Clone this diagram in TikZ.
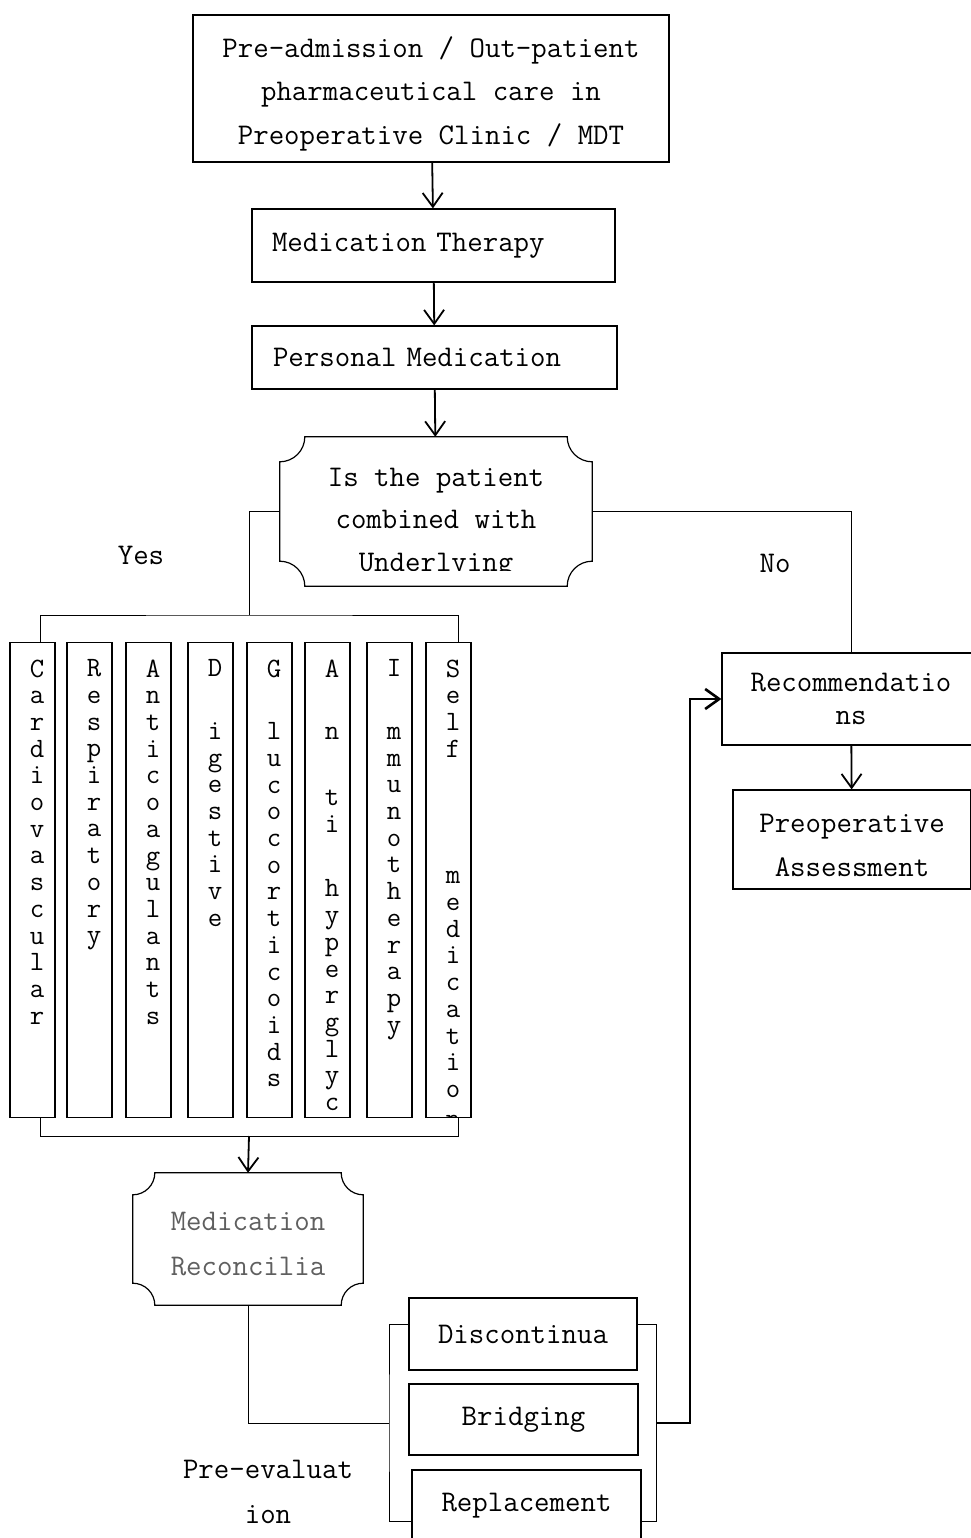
\documentclass[tikz,border=0pt]{standalone}
\usepackage{tikz}
\usetikzlibrary{arrows.meta, calc}
\definecolor{recongray}{RGB}{95,95,95}

% box with concave (inward) corners, drawn round an existing node
\newcommand{\drawplaque}[2]{%
  \draw[line width=1.2pt] ([xshift=#2]#1.north west) -- ([xshift=-#2]#1.north east)
    arc[start angle=180, end angle=270, radius=#2]
    -- ([yshift=#2]#1.south east)
    arc[start angle=90, end angle=180, radius=#2]
    -- ([xshift=#2]#1.south west)
    arc[start angle=0, end angle=90, radius=#2]
    -- ([yshift=-#2]#1.north west)
    arc[start angle=270, end angle=360, radius=#2] -- cycle;}

\begin{document}
\begin{tikzpicture}[
    x=1pt, y=1pt,
    every node/.style={font=\ttfamily\fontsize{30}{43.5}\selectfont},
    box/.style={rectangle, draw, line width=1.2pt, inner sep=0pt, align=center},
    leftbox/.style={box, align=left, inner xsep=20pt, text width=323pt},
    plaquebox/.style={rectangle, inner sep=0pt, align=center},
    col/.style={rectangle, draw, line width=1.2pt, minimum width=45pt,
                minimum height=475pt, inner sep=0pt},
    coltext/.style={anchor=north, align=center, inner sep=0pt,
                    font=\ttfamily\fontsize{28}{26.7}\selectfont},
    link/.style={line width=1pt},
    arrow/.style={-{Straight Barb[length=14pt,width=20pt]}, line width=1.8pt},
    feedback/.style={arrow, line width=2.6pt}
]
\useasboundingbox (0,0) rectangle (970,-1538);

% main column
\node[box, minimum width=476pt, minimum height=147pt] (pre) at (431,-88.5)
    {\rule{0pt}{31pt}Pre-admission / Out-patient\\pharmaceutical care in\\Preoperative Clinic / MDT};
\node[leftbox, minimum height=73pt] (therapy) at (433.5,-245.5) {Medication Therapy};
\node[leftbox, inner xsep=21pt, minimum height=63pt] (personal) at (434.5,-357.5) {Personal Medication};

\node[plaquebox, minimum width=312pt, minimum height=149pt] (dec) at (436,-511.5) {};
\drawplaque{dec}{25pt}
\begin{scope}
  \clip ([yshift=16pt]dec.south west) rectangle (dec.north east);
  \node[align=center, font=\ttfamily\fontsize{30}{42.5}\selectfont] (dectext)
      at ([yshift=-11.5pt]dec.center) {Is the patient\\combined with\\Underlying};
\end{scope}

\draw[arrow] (pre) -- (therapy);
\draw[arrow] (therapy) -- (personal);
\draw[arrow] (personal) -- (dec);

\node (yes) at (141,-555) {Yes};
\node (no) at (775,-563) {No};

% medication classes
\foreach \i/\x/\txt in {
    1/32.5/{C\\a\\r\\d\\i\\o\\v\\a\\s\\c\\u\\l\\a\\r},
    2/89.5/{R\\e\\s\\p\\i\\r\\a\\t\\o\\r\\y},
    3/148.5/{A\\n\\t\\i\\c\\o\\a\\g\\u\\l\\a\\n\\t\\s},
    4/210.5/{D\\[36pt]i\\g\\e\\s\\t\\i\\v\\e},
    5/269.5/{G\\[36pt]l\\u\\c\\o\\c\\o\\r\\t\\i\\c\\o\\i\\d\\s},
    6/327.5/{A\\[36pt]n\\[39pt]t\\i\\[38pt]h\\y\\p\\e\\r\\g\\l\\y\\c},
    7/389.5/{I\\[36pt]m\\m\\u\\n\\o\\t\\h\\e\\r\\a\\p\\y},
    8/448.5/{S\\e\\l\\f\\[100pt]m\\e\\d\\i\\c\\a\\t\\i\\o\\[3pt]n}} {
  \node[col] (c\i) at (\x,-880) {};
  \begin{scope}
    \clip ([yshift=2pt]c\i.south west) rectangle (c\i.north east);
    \node[coltext] (t\i) at ([xshift=4.5pt,yshift=-17.5pt]c\i.north) {\txt};
  \end{scope}
}

\coordinate (topbar) at (249,-615);
\coordinate (botbar) at (249,-1136);
\draw[link] (dec.west) -| (topbar);
\draw[link] ([xshift=7.5pt]c1.north) |- (topbar) -| ([xshift=9.5pt]c8.north);
\draw[link] ([xshift=7.5pt]c1.south) |- (botbar) -| ([xshift=9.5pt]c8.south);

\node[plaquebox, text=recongray, minimum width=230pt, minimum height=132pt,
      font=\ttfamily\fontsize{30}{45}\selectfont] (recon) at (248,-1239)
    {\rule{0pt}{29pt}Medication\\Reconcilia};
\drawplaque{recon}{22pt}
\draw[arrow] (botbar) -- (recon.north);

% pre-evaluation options
\node[box, minimum width=228pt, minimum height=72pt] (disc) at (523,-1334) {Discontinua};
\node[box, minimum width=229pt, minimum height=71pt] (brid) at (523.5,-1419.5) {Bridging};
\node[box, minimum width=229pt, minimum height=72pt] (repl) at (526.5,-1506) {Replacement};
\node[align=center, font=\ttfamily\fontsize{30}{45}\selectfont] (preeval) at (268,-1492)
    {Pre-evaluat\\ion};

\coordinate (lbr) at (389,-1423);
\coordinate (rbr) at (656,-1423);
\draw[link] (recon.south) |- (lbr);
\draw[link] ([yshift=10pt]disc.west) -| (lbr) |- ([yshift=-15pt]repl.west);
\draw[link] ([yshift=10pt]disc.east) -| (rbr) |- ([yshift=-15pt]repl.east);

% right branch
\node[box, minimum width=258pt, minimum height=92pt,
      font=\ttfamily\fontsize{30}{33}\selectfont] (rec) at (851,-699) {Recommendatio\\ns};
\node[box, minimum width=238pt, minimum height=99pt, font=\ttfamily\fontsize{30}{44}\selectfont]
    (preop) at (852,-839.5) {\rule{0pt}{31pt}Preoperative\\Assessment};

\draw[link] (dec.east) -| (rec.north);
\draw[arrow] (rec) -- (preop);
\draw[feedback] (rbr) -- ++(34,0) |- (rec.west);

\end{tikzpicture}
\end{document}
